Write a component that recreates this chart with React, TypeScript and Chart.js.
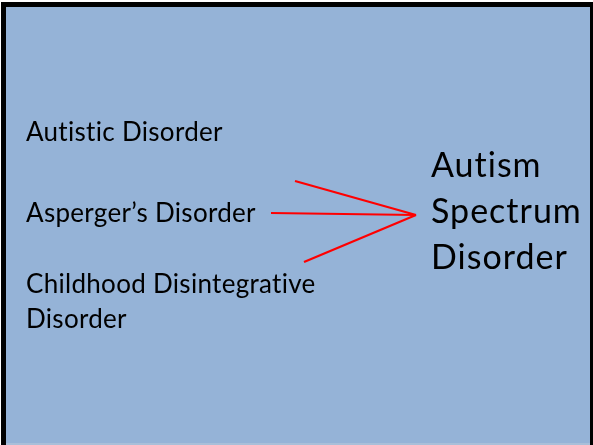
import React, { useEffect, useRef } from "react";
import { Chart, registerables } from "chart.js";

Chart.register(...registerables);

// Source items (left column) and the combined diagnosis (right)
const sourceLabels = ["Autistic Disorder", "Asperger’s Disorder", "Childhood Disintegrative", "Disorder"];
const sourceLabelX = [26, 26, 26, 26];
const sourceLabelY = [141, 222, 293, 328];

const targetLabels = ["Autism", "Spectrum", "Disorder"];
const targetLabelX = [431, 431, 431];
const targetLabelY = [177, 223, 269];

// Arrow lines: tails converge on a single head point
const arrowTailX = [295, 271, 304];
const arrowTailY = [181, 213, 262];
const arrowHeadX = [416, 416, 416];
const arrowHeadY = [215, 215, 215];

const W = 593;
const H = 445;

const slidePlugin = {
  id: "slide",
  beforeDraw(chart: any) {
    const ctx = chart.ctx;
    ctx.save();
    ctx.fillStyle = "#ffffff";
    ctx.fillRect(0, 0, W, H);
    ctx.fillStyle = "#000000";
    ctx.fillRect(1, 2, W - 1, H - 2);
    ctx.fillStyle = "#95b3d7";
    ctx.fillRect(6, 7, 584, 436);
    ctx.fillStyle = "#a9bfd9";
    ctx.fillRect(6, 443, 584, 2);
    ctx.restore();
  },
  afterDraw(chart: any) {
    const ctx = chart.ctx;
    const xs = chart.scales.x;
    const ys = chart.scales.y;
    ctx.save();
    ctx.fillStyle = "#000000";
    ctx.textBaseline = "alphabetic";
    ctx.textAlign = "left";
    ctx.font = "26px Lato";
    (ctx as any).letterSpacing = "0.3px";
    sourceLabels.forEach((t, i) => {
      ctx.fillText(t, xs.getPixelForValue(sourceLabelX[i]), ys.getPixelForValue(sourceLabelY[i]));
    });
    ctx.font = "34px Lato";
    (ctx as any).letterSpacing = "1px";
    targetLabels.forEach((t, i) => {
      ctx.fillText(t, xs.getPixelForValue(targetLabelX[i]), ys.getPixelForValue(targetLabelY[i]));
    });
    ctx.restore();
  },
};

export default function App() {
  const ref = useRef<HTMLCanvasElement>(null);
  useEffect(() => {
    document.body.style.margin = "0";
    const datasets = arrowTailX.map((x, i) => ({
      type: "line" as const,
      data: [
        { x, y: arrowTailY[i] },
        { x: arrowHeadX[i], y: arrowHeadY[i] },
      ],
      borderColor: "#ff0000",
      borderWidth: 2.2,
      pointRadius: 0,
      showLine: true,
      fill: false,
    }));
    const chart = new Chart(ref.current!, {
      type: "scatter",
      data: { datasets },
      options: {
        responsive: false,
        animation: false,
        layout: { padding: 0 },
        plugins: { legend: { display: false }, tooltip: { enabled: false } },
        scales: {
          x: { type: "linear", min: 0, max: W, display: false },
          y: { type: "linear", min: 0, max: H, reverse: true, display: false },
        },
      },
      plugins: [slidePlugin],
    });
    return () => chart.destroy();
  }, []);
  return <canvas ref={ref} width={W} height={H} style={{ display: "block" }} />;
}
